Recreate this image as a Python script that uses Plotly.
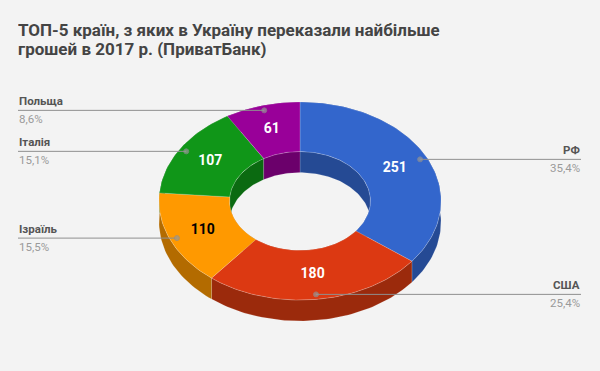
import numpy as np
import plotly.graph_objects as go

# ---- data ----
countries = ["РФ", "США", "Ізраїль", "Італія", "Польща"]
values = [251, 180, 110, 107, 61]
title_lines = ["ТОП-5 країн, з яких в Україну переказали найбільше",
               "грошей в 2017 р. (ПриватБанк)"]

# ---- style ----
top_colors = ["#3366cc", "#dc3912", "#ff9900", "#109618", "#990099"]
side_colors = ["#254a94", "#9b2a0c", "#b36b00", "#0b6a11", "#6b006b"]
value_text_colors = ["#ffffff", "#ffffff", "#000000", "#ffffff", "#ffffff"]
BG = "#f3f3f3"
W, H = 600, 371
CX, CY, RX, RY = 300.0, 201.0, 141.0, 99.0
HOLE = 0.5
DEPTH = 21.0
LEFT_X, RIGHT_X = 18, 581
FONT = "Roboto"

total = float(sum(values))
fracs = [v / total for v in values]
cum = np.concatenate([[0.0], np.cumsum(fracs)])


def arc(r, a0, a1, dy=0.0, n=None):
    if n is None:
        n = max(8, int(abs(a1 - a0) / (2 * np.pi) * 240))
    t = np.linspace(a0, a1, n)
    return CX + r * RX * np.sin(t), CY - r * RY * np.cos(t) + dy


fig = go.Figure()

# walls (outer and inner) first
for i, v in enumerate(values):
    a0, a1 = cum[i] * 2 * np.pi, cum[i + 1] * 2 * np.pi
    for r in (1.0, HOLE):
        x1, y1 = arc(r, a0, a1)
        x2, y2 = arc(r, a1, a0, DEPTH)
        fig.add_trace(go.Scatter(
            x=np.concatenate([x1, x2, x1[:1]]), y=np.concatenate([y1, y2, y1[:1]]),
            fill="toself", fillcolor=side_colors[i], mode="lines",
            line=dict(width=0.6, color="rgba(255,255,255,0.25)"),
            hoverinfo="skip", showlegend=False))

# top faces
for i, v in enumerate(values):
    a0, a1 = cum[i] * 2 * np.pi, cum[i + 1] * 2 * np.pi
    x1, y1 = arc(1.0, a0, a1)
    x2, y2 = arc(HOLE, a1, a0)
    fig.add_trace(go.Scatter(
        x=np.concatenate([x1, x2, x1[:1]]), y=np.concatenate([y1, y2, y1[:1]]),
        fill="toself", fillcolor=top_colors[i], mode="lines",
        line=dict(width=0.6, color="rgba(255,255,255,0.3)"),
        hoverinfo="skip", showlegend=False))

# value labels, leader lines and outside labels
for i, v in enumerate(values):
    mid = (cum[i] + cum[i + 1]) / 2 * 2 * np.pi
    tx = CX + 0.75 * RX * np.sin(mid)
    ty = CY - 0.75 * RY * np.cos(mid)
    fig.add_trace(go.Scatter(
        x=[tx], y=[ty], mode="text", text=[f"<b>{v}</b>"],
        textfont=dict(family=FONT, size=14, color=value_text_colors[i]),
        textposition="middle center", hoverinfo="skip", showlegend=False))
    dx = CX + 0.95 * RX * np.sin(mid)
    dy = CY - 0.95 * RY * np.cos(mid)
    right = np.sin(mid) > 0
    ex = RIGHT_X if right else LEFT_X
    fig.add_trace(go.Scatter(
        x=[ex, dx], y=[dy, dy], mode="lines+markers",
        line=dict(color="#8f8f8f", width=1),
        marker=dict(size=[0, 5], color="#999999"),
        hoverinfo="skip", showlegend=False))
    pct = f"{v / total * 100:.1f}".replace(".", ",") + "%"
    anchor = "right" if right else "left"
    fig.add_annotation(x=ex, y=dy - 1, text=f"<b>{countries[i]}</b>", showarrow=False,
                       xanchor=anchor, yanchor="bottom", xref="x", yref="y",
                       font=dict(family=FONT, size=11.5, color="#555555"),
                       borderpad=0)
    fig.add_annotation(x=ex, y=dy + 1, text=pct, showarrow=False,
                       xanchor=anchor, yanchor="top", xref="x", yref="y",
                       font=dict(family=FONT, size=11.5, color="#9a9a9a"),
                       borderpad=0)

# title (two lines)
for k, line in enumerate(title_lines):
    fig.add_annotation(x=LEFT_X - 1, y=29 + k * 19.5, text=f"<b>{line}</b>", showarrow=False,
                       xanchor="left", yanchor="middle", xref="x", yref="y",
                       height=19, valign="middle", borderpad=0,
                       font=dict(family=FONT, size=17, color="#444444"))

fig.update_layout(
    width=W, height=H, margin=dict(l=0, r=0, t=0, b=0),
    paper_bgcolor=BG, plot_bgcolor=BG,
    xaxis=dict(range=[0, W], visible=False, fixedrange=True),
    yaxis=dict(range=[H, 0], visible=False, fixedrange=True),
)
fig.write_html("out.html", config={"displayModeBar": False},
               post_script="document.body.style.margin='0';")
